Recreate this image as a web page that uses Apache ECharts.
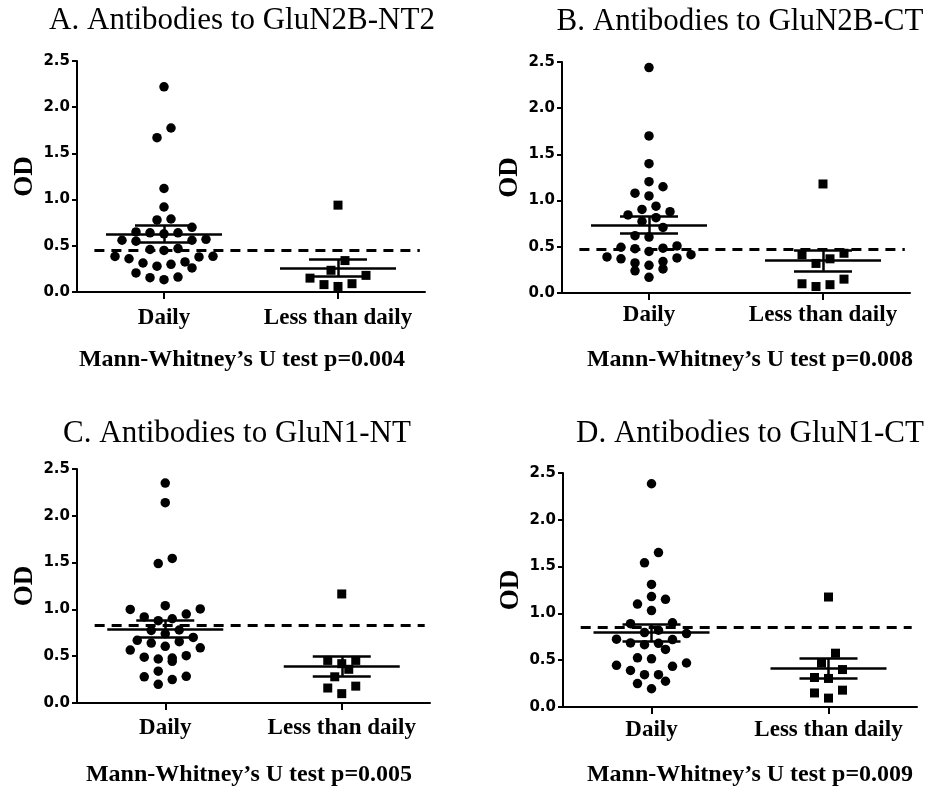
<!DOCTYPE html>
<html>
<head>
<meta charset="utf-8">
<script src="https://cdn.jsdelivr.net/npm/echarts@6/dist/echarts.min.js"></script>
<style>
  html, body { margin: 0; padding: 0; background: #fff; }
  #chart { width: 925px; height: 788px; }
</style>
</head>
<body>
<div id="chart"></div>
<script>
// groups on the x axis (placed at x = 1 and x = 2)
const categories = ['Daily', 'Less than daily'];
const groupPos = [1, 2];

// A. GluN2B-NT2
const dailyA = [2.22, 1.775, 1.67, 1.12, 0.92, 0.78, 0.79, 0.70, 0.64, 0.65, 0.63, 0.64,
  0.56, 0.57, 0.55, 0.56, 0.47, 0.46, 0.45, 0.386, 0.385, 0.36, 0.38, 0.314, 0.30,
  0.325, 0.26, 0.28, 0.206, 0.162, 0.133, 0.155];
const lessA = [0.94, 0.34, 0.235, 0.18, 0.15, 0.09, 0.06, 0.08];
const meanA = [0.63, 0.26];
const semA = [0.09, 0.09];
const cutoffA = 0.45;

// B. GluN2B-CT
const dailyB = [2.44, 1.70, 1.40, 1.205, 1.15, 1.08, 1.05, 0.94, 0.905, 0.845, 0.88, 0.815,
  0.775, 0.71, 0.605, 0.62, 0.495, 0.48, 0.485, 0.51, 0.415, 0.38, 0.34, 0.325, 0.37,
  0.39, 0.45, 0.30, 0.26, 0.24, 0.17];
const lessB = [1.18, 0.43, 0.37, 0.32, 0.415, 0.15, 0.10, 0.07, 0.09];
const meanB = [0.737, 0.353];
const semB = [0.09, 0.113];
const cutoffB = 0.47;

// C. GluN1-NT
const dailyC = [2.35, 2.14, 1.545, 1.49, 1.005, 0.95, 1.0, 1.04, 0.92, 0.90, 0.88, 0.78,
  0.775, 0.74, 0.70, 0.655, 0.605, 0.64, 0.67, 0.565, 0.59, 0.49, 0.47, 0.445, 0.48,
  0.505, 0.34, 0.28, 0.20, 0.25, 0.285];
const lessC = [1.165, 0.455, 0.36, 0.42, 0.455, 0.28, 0.18, 0.10, 0.16];
const meanC = [0.792, 0.396];
const semC = [0.093, 0.105];
const cutoffC = 0.83;

// D. GluN1-CT
const dailyD = [2.385, 1.65, 1.54, 1.31, 1.18, 1.15, 1.10, 1.03, 0.89, 0.90, 0.82, 0.785,
  0.795, 0.72, 0.685, 0.68, 0.665, 0.725, 0.615, 0.47, 0.435, 0.515, 0.525, 0.39,
  0.445, 0.345, 0.345, 0.275, 0.25, 0.195];
const lessD = [1.175, 0.575, 0.47, 0.40, 0.315, 0.305, 0.18, 0.15, 0.095];
const meanD = [0.794, 0.41];
const semD = [0.089, 0.107];
const cutoffD = 0.855;

const yTicks = [0, 0.5, 1.0, 1.5, 2.0, 2.5];

const titles = ['A. Antibodies to GluN2B-NT2', 'B. Antibodies to GluN2B-CT',
  'C. Antibodies to GluN1-NT', 'D. Antibodies to GluN1-CT'];
const footers = ['Mann-Whitney\u2019s U test p=0.004', 'Mann-Whitney\u2019s U test p=0.008',
  'Mann-Whitney\u2019s U test p=0.005', 'Mann-Whitney\u2019s U test p=0.009'];

const panels = [
  { daily: dailyA, less: lessA, mean: meanA, sem: semA, cut: cutoffA,
    grid: { left: 77, top: 61, width: 348, height: 231 }, labelMargin: 15,
    title: [242, 21], footer: [242, 360] },
  { daily: dailyB, less: lessB, mean: meanB, sem: semB, cut: cutoffB,
    grid: { left: 562, top: 62, width: 348, height: 231 }, labelMargin: 11,
    title: [740, 22], footer: [750, 360] },
  { daily: dailyC, less: lessC, mean: meanC, sem: semC, cut: cutoffC,
    grid: { left: 77, top: 469, width: 353, height: 234 }, labelMargin: 14,
    title: [237, 434], footer: [249, 775] },
  { daily: dailyD, less: lessD, mean: meanD, sem: semD, cut: cutoffD,
    grid: { left: 563, top: 473, width: 354, height: 234 }, labelMargin: 12,
    title: [750, 434], footer: [750, 775] }
];

const serif = '"Liberation Serif", "Times New Roman", serif';

// column scatter: values binned into rows, each row spread evenly around the group centre
function swarm(values, center, step, binH) {
  const sorted = values.slice().sort((a, b) => a - b);
  const rows = [];
  let cur = null;
  sorted.forEach(v => {
    if (!cur || v - cur[0] >= binH) { cur = [v]; rows.push(cur); }
    else cur.push(v);
  });
  const pts = [];
  rows.forEach(row => {
    const k = row.length;
    const offs = [];
    for (let i = 0; i < k; i++) offs.push((i - (k - 1) / 2) * step);
    offs.sort((a, b) => Math.abs(a) - Math.abs(b) || a - b);
    row.forEach((v, i) => pts.push([center + offs[i], v]));
  });
  return pts;
}

function errorLines(p, pxPerUnit) {
  const halfMean = 58 / pxPerUnit, halfSem = 29 / pxPerUnit;
  const out = [];
  p.mean.forEach((m, i) => {
    const x = groupPos[i], s = p.sem[i];
    out.push([{ coord: [x - halfMean, m] }, { coord: [x + halfMean, m] }]);
    out.push([{ coord: [x - halfSem, m + s] }, { coord: [x + halfSem, m + s] }]);
    out.push([{ coord: [x - halfSem, m - s] }, { coord: [x + halfSem, m - s] }]);
    out.push([{ coord: [x, m - s] }, { coord: [x, m + s] }]);
  });
  return out;
}

const grid = [], xAxis = [], yAxis = [], series = [], graphic = [];

panels.forEach((p, gi) => {
  grid.push(Object.assign({ containLabel: false }, p.grid));
  const pxPerUnit = p.grid.width / 2;
  const step = 14 / pxPerUnit;
  const binH = 12 / (p.grid.height / 2.5);

  xAxis.push({
    type: 'value', gridIndex: gi, min: 0.5, max: 2.5,
    axisLine: { show: true, onZero: false, lineStyle: { color: '#000', width: 2 } },
    axisTick: { show: true, customValues: groupPos, length: 7, lineStyle: { color: '#000', width: 2 } },
    axisLabel: { show: true, customValues: groupPos, color: '#000', fontFamily: serif, fontWeight: 'bold',
      fontSize: 23, margin: p.labelMargin, formatter: v => categories[groupPos.indexOf(v)] },
    splitLine: { show: false }
  });

  yAxis.push({
    type: 'value', gridIndex: gi, min: yTicks[0], max: yTicks[yTicks.length - 1], interval: 0.5,
    name: 'OD', nameLocation: 'middle', nameGap: 38,
    nameTextStyle: { color: '#000', fontFamily: serif, fontWeight: 'bold', fontSize: 27 },
    axisLine: { show: true, onZero: false, lineStyle: { color: '#000', width: 2 } },
    axisTick: { show: true, length: 5, lineStyle: { color: '#000', width: 2 } },
    axisLabel: { color: '#000', fontFamily: '"DejaVu Sans", sans-serif', fontWeight: 'bold', fontSize: 15,
      margin: 7, formatter: v => v.toFixed(1) },
    splitLine: { show: false }
  });

  series.push({
    type: 'scatter', xAxisIndex: gi, yAxisIndex: gi, symbol: 'circle', symbolSize: 9.5,
    itemStyle: { color: '#000', opacity: 1 }, data: swarm(p.daily, groupPos[0], step, binH), z: 3
  });
  series.push({
    type: 'scatter', xAxisIndex: gi, yAxisIndex: gi, symbol: 'rect', symbolSize: 9,
    itemStyle: { color: '#000', opacity: 1 }, data: swarm(p.less, groupPos[1], step, binH), z: 3
  });
  // mean ± SEM
  series.push({
    type: 'scatter', xAxisIndex: gi, yAxisIndex: gi, data: [], z: 4,
    markLine: {
      silent: true, symbol: ['none', 'none'], animation: false,
      label: { show: false },
      lineStyle: { color: '#000', width: 2.5, type: 'solid', opacity: 1 },
      data: errorLines(p, pxPerUnit)
    }
  });
  // cut-off
  series.push({
    type: 'scatter', xAxisIndex: gi, yAxisIndex: gi, data: [], z: 5,
    markLine: {
      silent: true, symbol: ['none', 'none'], animation: false,
      label: { show: false },
      lineStyle: { color: '#000', width: 3, type: [10, 7], opacity: 1 },
      data: [[{ coord: [0.6, p.cut] }, { coord: [2.47, p.cut] }]]
    }
  });

  graphic.push({
    type: 'text', x: p.title[0], y: p.title[1],
    style: { text: titles[gi], font: '31px ' + serif, fill: '#000', textAlign: 'center', textVerticalAlign: 'middle' }
  });
  graphic.push({
    type: 'text', x: p.footer[0], y: p.footer[1],
    style: { text: footers[gi], font: 'bold 24px ' + serif, fill: '#000', textAlign: 'center', textVerticalAlign: 'middle' }
  });
});

const myChart = echarts.init(document.getElementById('chart'));
myChart.setOption({
  backgroundColor: '#fff',
  animation: false,
  grid: grid,
  xAxis: xAxis,
  yAxis: yAxis,
  series: series,
  graphic: graphic
});
</script>
</body>
</html>
